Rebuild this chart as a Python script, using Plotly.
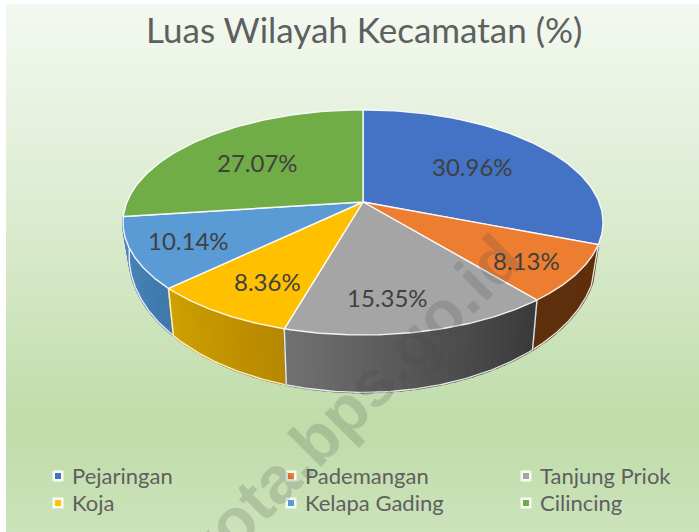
import numpy as np
import plotly.graph_objects as go

# ---- data ----
CATEGORIES = ["Pejaringan", "Pademangan", "Tanjung Priok", "Koja", "Kelapa Gading", "Cilincing"]
SHARES = [30.96, 8.13, 15.35, 8.36, 10.14, 27.07]
LABELS = ["30.96%", "8.13%", "15.35%", "8.36%", "10.14%", "27.07%"]
TITLE = "Luas Wilayah Kecamatan (%)"
WATERMARK = "kota.bps.go.id"

# ---- style ----
W, H = 699, 532
FACE = ["#4472c4", "#ed7d31", "#a5a5a5", "#ffc000", "#5b9bd5", "#70ad47"]
# side-wall gradient (left colour, right colour); None: the wall is hidden behind the face
WALL = [None, ("#5f300d", "#5f2f0c"), ("#707070", "#3a3a3a"), ("#cfa000", "#b58800"),
        ("#4f88bd", "#3f78aa"), None]
CX, CY, A, B, P = 363, 202, 236, 108.8, 0.182      # top face projection
A2, B2, DROP = 230, 132, 29                        # bottom rim projection
LABEL_R = 0.7
LABEL_NUDGE = [(-18, 5), (19, 10), (-14, 10), (0, 6), (-17, 4), (9, 7)]
LEGEND_X = [70, 303, 538]
LEGEND_Y = [476, 503]
BG_STOPS = [(0, "#f4f9f1"), (0.2, "#e8f2e1"), (0.5, "#d5e8c7"), (0.8, "#bfdca9"), (1, "#cbe3ba")]


def top(theta, r=1.0):
    t = np.radians(theta)
    d = 1 + P * r * np.cos(t)
    return CX + A * r * np.sin(t) / d, CY - B * r * np.cos(t) / d


def bottom(theta):
    t = np.radians(theta)
    d = 1 + P * np.cos(t)
    return CX + A2 * np.sin(t) / d, CY + DROP - B2 * np.cos(t) / d


def lerp(c0, c1, f):
    a = [int(c0[i:i + 2], 16) for i in (1, 3, 5)]
    b = [int(c1[i:i + 2], 16) for i in (1, 3, 5)]
    return "rgb(%d,%d,%d)" % tuple(round(u + (v - u) * f) for u, v in zip(a, b))


edges = np.concatenate([[0], np.cumsum(SHARES)]) / sum(SHARES) * 360
fig = go.Figure()

# background gradient
ys = np.arange(0, H + 1, 4)
fig.add_trace(go.Heatmap(x=[0, W], y=ys, z=[[v, v] for v in ys / H], zmin=0, zmax=1,
                         colorscale=[list(s) for s in BG_STOPS], showscale=False,
                         hoverinfo="skip", zsmooth="best"))


def poly(x, y, fill, line, width, name=None):
    fig.add_trace(go.Scatter(x=x, y=y, mode="lines", fill="toself", fillcolor=fill,
                             line=dict(color=line, width=width), hoverinfo="skip" if name is None else "name",
                             name=name or "", showlegend=False))


# side walls, as thin strips so that they can carry a gradient
for i in [4, 3, 1, 2]:
    lo, hi = edges[i], edges[i + 1]
    n = 28
    cuts = np.linspace(lo, hi, n + 1)
    for k in range(n):
        th = np.linspace(cuts[k], cuts[k + 1], 3)
        tx, ty = top(th)
        bx, by = bottom(th)
        # on the front of the pie the angle grows from right to left on screen
        c = lerp(WALL[i][0], WALL[i][1], 1 - k / (n - 1))
        poly(np.r_[tx, bx[::-1], tx[0]], np.r_[ty, by[::-1], ty[0]], c, c, 2)
    th = np.linspace(lo, hi, 60)
    tx, ty = top(th)
    bx, by = bottom(th)
    fig.add_trace(go.Scatter(x=np.r_[tx[0], bx[0], bx, bx[-1], tx[-1]],
                             y=np.r_[ty[0], by[0], by, by[-1], ty[-1]], mode="lines",
                             line=dict(color="rgba(255,255,255,0.85)", width=1.4),
                             hoverinfo="skip", showlegend=False))

# top face
for i, cat in enumerate(CATEGORIES):
    th = np.linspace(edges[i], edges[i + 1], 90)
    x, y = top(th)
    poly(np.r_[CX, x, CX], np.r_[CY, y, CY], FACE[i], "rgba(255,255,255,0.9)", 1.4, cat)

# legend swatches
ann = []
for i, cat in enumerate(CATEGORIES):
    lx, ly = LEGEND_X[i % 3], LEGEND_Y[i // 3]
    fig.add_trace(go.Scatter(x=[lx - 12], y=[ly], mode="markers", showlegend=False, hoverinfo="skip",
                             marker=dict(symbol="square", size=11, color="rgba(255,255,255,0.85)")))
    fig.add_trace(go.Scatter(x=[lx - 12], y=[ly], mode="markers", showlegend=False, hoverinfo="skip",
                             marker=dict(symbol="square", size=6, color=FACE[i])))
    ann.append(dict(x=lx, y=ly - 1, text=cat, showarrow=False, xanchor="left", yanchor="middle",
                    font=dict(family="Lato", size=22, color="#5f5f5f")))

# value labels
for i, lab in enumerate(LABELS):
    x, y = top((edges[i] + edges[i + 1]) / 2, LABEL_R)
    ann.append(dict(x=float(x) + LABEL_NUDGE[i][0], y=float(y) + LABEL_NUDGE[i][1], text=lab, showarrow=False,
                    font=dict(family="Lato", size=24, color="#404040")))

ann.append(dict(x=364, y=29, text=TITLE, showarrow=False,
                font=dict(family="Lato", size=35, color="#5f5f5f")))
ann.append(dict(x=350, y=405, text=WATERMARK, showarrow=False, textangle=-45,
                font=dict(family="Liberation Sans", size=66, color="rgba(70,70,70,0.19)", weight="bold")))

fig.update_layout(
    width=W, height=H, margin=dict(l=0, r=0, t=0, b=0), showlegend=False,
    paper_bgcolor="white", plot_bgcolor="white",
    xaxis=dict(range=[0, W], visible=False, fixedrange=True),
    yaxis=dict(range=[H, 0], visible=False, fixedrange=True),
    annotations=ann,
    shapes=[dict(type="rect", xref="paper", yref="paper", x0=0, x1=6 / W, y0=0, y1=1,
                 fillcolor="white", line_width=0, layer="above"),
            dict(type="rect", xref="paper", yref="paper", x0=0, x1=1, y0=1 - 4 / H, y1=1,
                 fillcolor="white", line_width=0, layer="above")],
)

fig.write_html("out.html", config=dict(displayModeBar=False),
               post_script="document.body.style.margin='0';document.body.style.overflow='hidden';")
